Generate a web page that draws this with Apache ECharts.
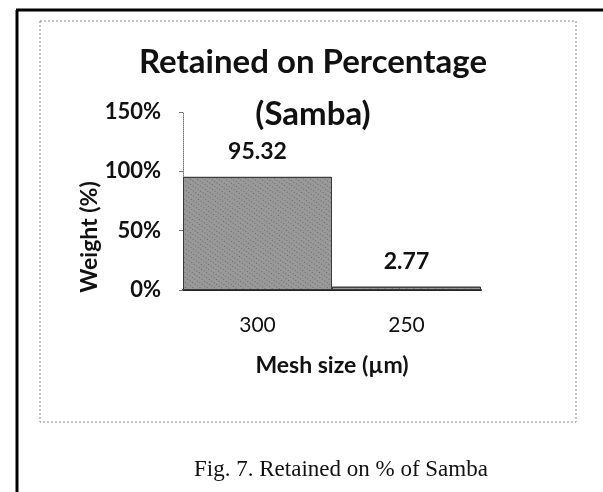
<!DOCTYPE html>
<html>
<head>
<meta charset="utf-8">
<script src="https://cdn.jsdelivr.net/npm/echarts@6/dist/echarts.min.js"></script>
<style>
  html, body { margin: 0; padding: 0; background: #fff; }
  #chart { width: 603px; height: 492px; }
</style>
</head>
<body>
<div id="chart"></div>
<script>
/* Retained on Percentage (Samba) — Fig. 7 */
const meshSizes = ['300', '250'];          // µm
const retained = [95.32, 2.77];            // Weight (%)
const yTicks = { min: 0, max: 150, interval: 50 };

const FONT = 'Lato, "Open Sans", sans-serif';
const INK = '#111';

const chart = echarts.init(document.getElementById('chart'), null, { renderer: 'canvas' });

chart.setOption({
  backgroundColor: '#fff',
  animation: false,
  title: [
    {
      text: 'Retained on Percentage\n(Samba)',
      left: 308, top: 31, textAlign: 'center',
      textStyle: { fontFamily: FONT, fontSize: 33, fontWeight: 'bold', color: INK, lineHeight: 52 }
    },
    {
      text: 'Fig. 7. Retained on % of Samba',
      left: 336, top: 453, textAlign: 'center',
      textStyle: { fontFamily: '"Liberation Serif", serif', fontSize: 23, fontWeight: 'normal', color: INK }
    }
  ],
  grid: { left: 183, right: 122, top: 112, bottom: 202, containLabel: false },
  xAxis: {
    type: 'category',
    data: meshSizes,
    name: 'Mesh size (µm)',
    nameLocation: 'middle',
    nameGap: 64,
    nameTextStyle: { fontFamily: FONT, fontSize: 23, fontWeight: 'bold', color: INK },
    axisLine: { lineStyle: { color: '#222', width: 2 } },
    axisTick: { show: false },
    axisLabel: { fontFamily: FONT, fontSize: 21, color: INK, margin: 25 }
  },
  yAxis: {
    type: 'value',
    ...yTicks,
    name: 'Weight (%)',
    nameLocation: 'middle',
    nameGap: 74,
    nameTextStyle: { fontFamily: FONT, fontSize: 23, fontWeight: 'bold', color: INK, padding: [0, 72, 0, 0] },
    axisLine: { show: true, lineStyle: { color: '#777', width: 1, type: 'dotted' } },
    axisTick: { show: true, length: 4, lineStyle: { color: '#777' } },
    splitLine: { show: false },
    axisLabel: { fontFamily: FONT, fontSize: 22, fontWeight: 'bold', color: INK, margin: 22, formatter: '{value}%' }
  },
  series: [{
    type: 'bar',
    data: retained,
    barCategoryGap: '0%',
    itemStyle: {
      color: '#999',
      borderColor: '#3a3a3a',
      borderWidth: 1,
      decal: {
        symbol: 'rect', symbolSize: 1,
        dashArrayX: [1, 2], dashArrayY: [1, 3],
        color: 'rgba(30,30,30,0.4)', rotation: 0.6
      }
    },
    label: {
      show: true, position: 'top', distance: 14,
      fontFamily: FONT, fontSize: 23, fontWeight: 'bold', color: INK,
      formatter: (p) => p.value.toFixed(2)
    }
  }],
  graphic: [
    // scanned page border (left and top)
    { type: 'line', shape: { x1: 17, y1: 10, x2: 17, y2: 492 }, style: { stroke: '#000', lineWidth: 3 } },
    { type: 'line', shape: { x1: 16, y1: 10, x2: 603, y2: 10 }, style: { stroke: '#000', lineWidth: 3 } },
    // chart area border
    { type: 'rect', shape: { x: 40, y: 21, width: 536, height: 401 },
      style: { fill: 'none', stroke: '#888', lineWidth: 1, lineDash: [2, 2] } }
  ]
});
</script>
</body>
</html>
